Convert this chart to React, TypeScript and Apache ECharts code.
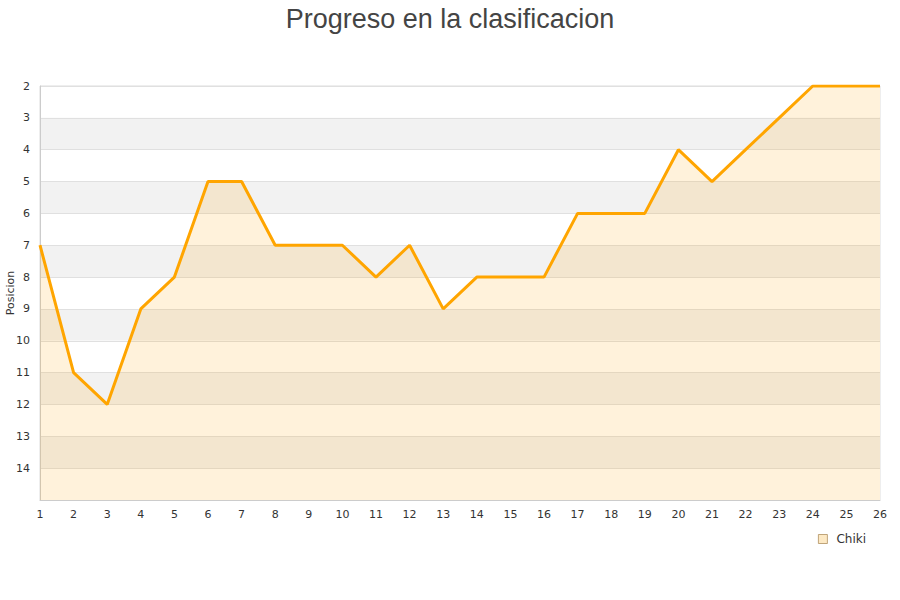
import React, { useEffect, useRef } from "react";
import * as echarts from "echarts";

const jornadas = ["1","2","3","4","5","6","7","8","9","10","11","12","13","14","15","16","17","18","19","20","21","22","23","24","25","26"];
const posiciones = [7, 11, 12, 9, 8, 5, 5, 7, 7, 7, 8, 7, 9, 8, 8, 8, 6, 6, 6, 4, 5, 4, 3, 2, 2, 2];
const serieNombre = "Chiki";
const titulo = "Progreso en la clasificacion";

export default function App() {
  const ref = useRef<HTMLDivElement>(null);
  useEffect(() => {
    if (!ref.current) return;
    const chart = echarts.init(ref.current, null, { renderer: "svg" });
    chart.setOption({
      animation: false,
      title: {
        text: titulo,
        left: "center",
        top: 0,
        textStyle: { fontFamily: "Liberation Sans", fontSize: 27, fontWeight: "normal", color: "#444" },
      },
      legend: {
        data: [{ name: serieNombre, icon: "rect" }],
        left: 813,
        top: 528,
        itemWidth: 9,
        itemHeight: 9,
        itemStyle: { color: "#fde9c4", borderColor: "#b09060", borderWidth: 0.8 },
        textStyle: { fontFamily: "DejaVu Sans", fontSize: 12, color: "#333", padding: [0, 0, 0, 4] },
      },
      grid: {
        left: 40,
        right: 20,
        top: 86,
        bottom: 100,
        outerBoundsMode: "none",
        containLabel: false,
        show: true,
        borderColor: "#ddd",
        borderWidth: 1,
        backgroundColor: "transparent",
      },
      xAxis: {
        type: "category",
        data: jornadas,
        boundaryGap: false,
        axisLine: { lineStyle: { color: "#ccc" } },
        axisTick: { show: false },
        axisLabel: { color: "#333", fontFamily: "DejaVu Sans", fontSize: 11, margin: 9 },
        splitLine: { show: false },
      },
      yAxis: {
        type: "value",
        inverse: true,
        min: 2,
        max: 15,
        interval: 1,
        name: "Posicion",
        nameLocation: "middle",
        nameGap: 30,
        nameMoveOverlap: false,
        nameRotate: 90,
        nameTextStyle: { color: "#333", fontFamily: "DejaVu Sans", fontSize: 11, verticalAlign: "middle" },
        axisLine: { show: true, lineStyle: { color: "#ccc" } },
        axisTick: { show: false },
        axisLabel: {
          color: "#333",
          fontFamily: "DejaVu Sans",
          fontSize: 11,
          margin: 10,
          showMaxLabel: false,
          formatter: (v: number) => (v >= 15 ? "" : String(v)),
        },
        splitLine: { show: true, lineStyle: { color: "#e0e0e0" } },
        splitArea: { show: true, areaStyle: { color: ["#ffffff", "#f2f2f2"] } },
      },
      series: [
        {
          name: serieNombre,
          type: "line",
          data: posiciones,
          symbol: "none",
          lineStyle: { color: "#ffa500", width: 3 },
          itemStyle: { color: "#fde9c4", borderColor: "#b09060", borderWidth: 0.8 },
          areaStyle: { color: "rgba(255,165,0,0.2)", origin: "end" },
        },
      ],
    });
    return () => chart.dispose();
  }, []);
  return <div ref={ref} style={{ width: 900, height: 600, position: "absolute", left: 0, top: 0 }} />;
}
